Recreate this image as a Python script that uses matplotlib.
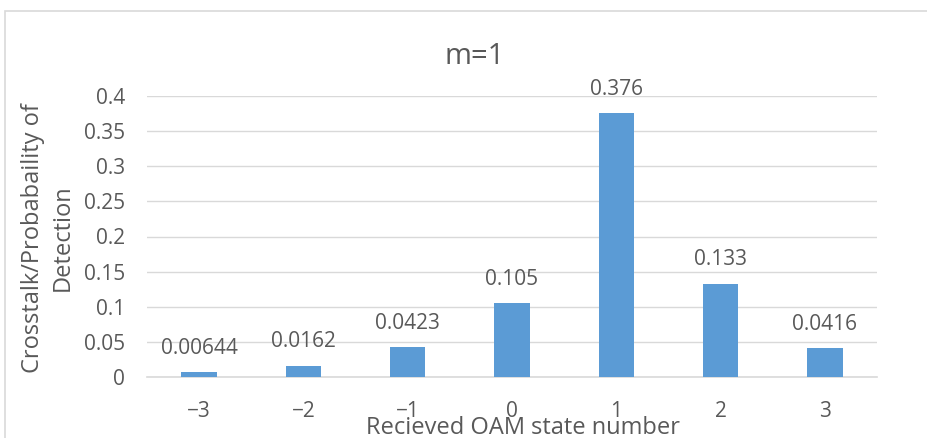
import matplotlib
matplotlib.use("Agg")
import matplotlib.pyplot as plt
from matplotlib.patches import Rectangle

states = ["\u22123", "\u22122", "\u22121", "0", "1", "2", "3"]
probability = [0.00644, 0.0162, 0.0423, 0.105, 0.376, 0.133, 0.0416]
value_labels = ["0.00644", "0.0162", "0.0423", "0.105", "0.376", "0.133", "0.0416"]
y_ticks = [0, 0.05, 0.1, 0.15, 0.2, 0.25, 0.3, 0.35, 0.4]
y_tick_labels = ["0", "0.05", "0.1", "0.15", "0.2", "0.25", "0.3", "0.35", "0.4"]

text_color = "#595959"
bar_color = "#5B9BD5"
grid_color = "#D9D9D9"
plt.rcParams["font.family"] = ["Open Sans", "DejaVu Sans"]

fig = plt.figure(figsize=(9.28, 4.38), dpi=100)
# chart-area frame (its right and bottom edges run past the canvas)
fig.patches.append(Rectangle((5 / 928, -0.1), 1.2, 1 - 11 / 438 + 0.1,
                             transform=fig.transFigure, fill=False,
                             edgecolor="#D9D9D9", linewidth=1.2, clip_on=False))
ax = fig.add_axes([147 / 928, 1 - 377 / 438, 730 / 928, 281 / 438])

x = list(range(len(states)))
ax.bar(x, probability, width=0.34, color=bar_color, zorder=3)
for xi, v, lab in zip(x, probability, value_labels):
    ax.annotate(lab, (xi, v), xytext=(0, 9.5), textcoords="offset points",
                ha="center", va="bottom", fontsize=15, color=text_color)

ax.set_xlim(-0.5, len(states) - 0.5)
ax.set_ylim(0, 0.4)
ax.set_yticks(y_ticks)
ax.set_yticklabels(y_tick_labels)
ax.set_xticks(x)
ax.set_xticklabels(states)
ax.tick_params(axis="both", length=0, labelsize=15, colors=text_color)
ax.tick_params(axis="y", pad=16)
ax.tick_params(axis="x", pad=17)
ax.grid(axis="y", color=grid_color, linewidth=1, zorder=0)
for side in ["top", "right", "left"]:
    ax.spines[side].set_visible(False)
ax.spines["bottom"].set_color(grid_color)
ax.spines["bottom"].set_linewidth(1.2)

# title is centred on the whole chart area, not on the plot area
fig.text(475 / 928, 1 - 57 / 438, "m=1", fontsize=21, color=text_color,
         ha="center", va="center")

ax.set_xlabel("Recieved OAM state number", fontsize=17, color=text_color)
ax.xaxis.label.set_va("center")
ax.xaxis.set_label_coords((523 - 147) / 730, -(428 - 377) / 281)
ax.set_ylabel("Crosstalk/Probabaility of\nDetection", fontsize=17, color=text_color,
              linespacing=1.3)
ax.yaxis.label.set_va("center")
ax.yaxis.set_label_coords(-(147 - 48) / 730, (377 - 238) / 281)

fig.savefig("out.png", dpi=100)
